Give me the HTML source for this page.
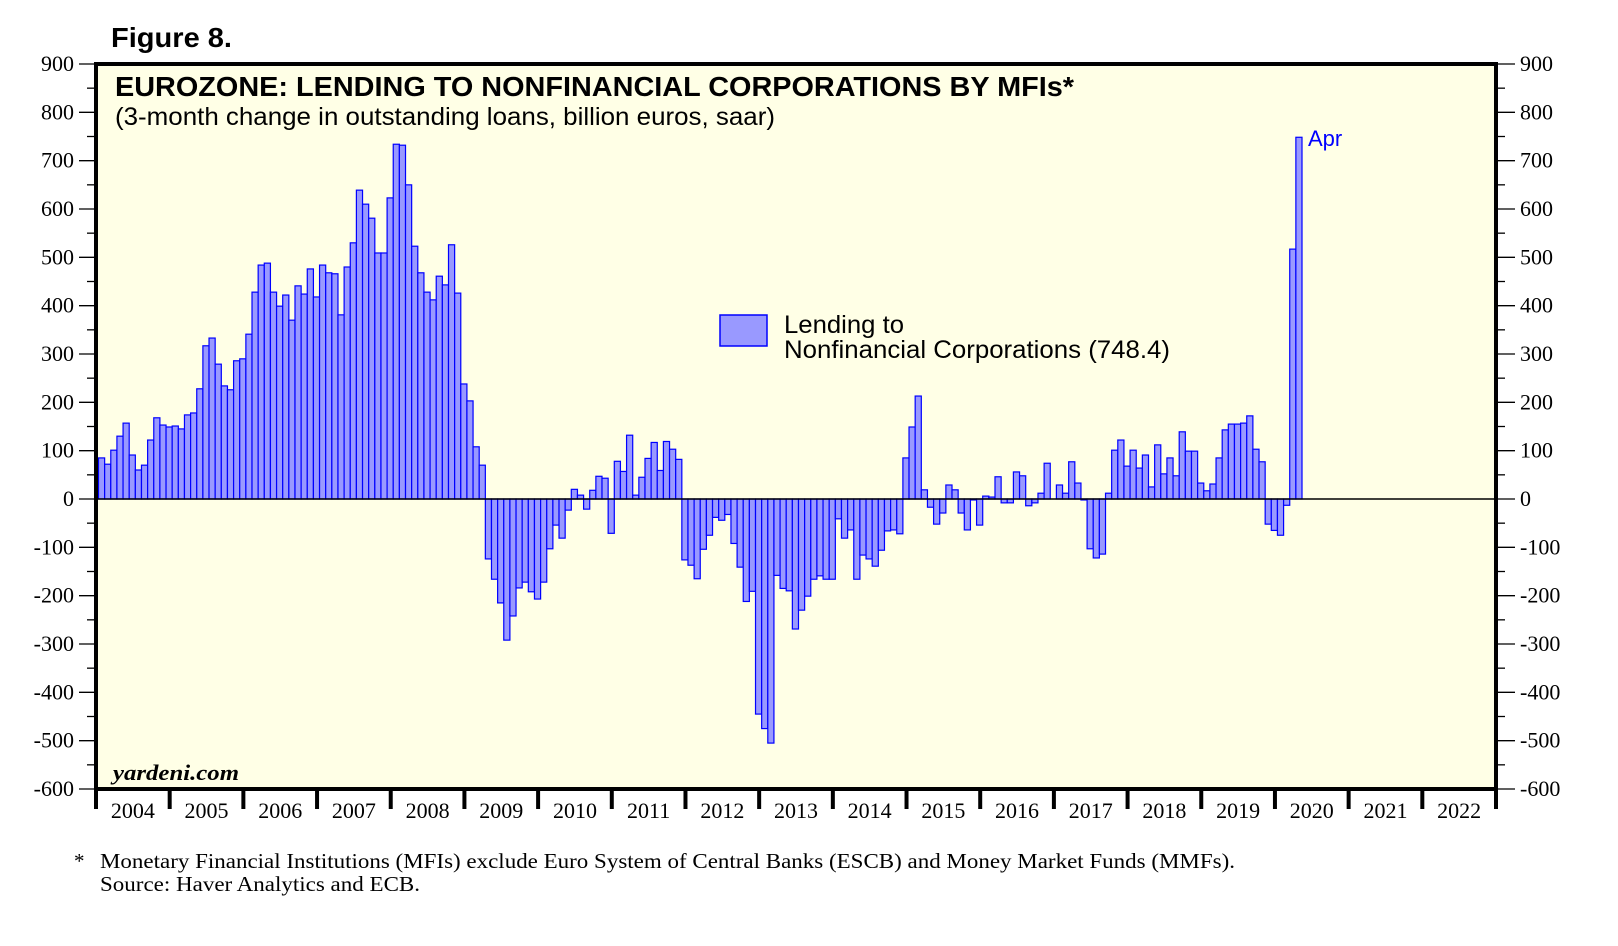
<!DOCTYPE html>
<html><head><meta charset="utf-8"><style>
html,body{margin:0;padding:0;background:#fff;}
svg{display:block;}
</style></head><body>
<svg id="chart" width="1618" height="946" xmlns="http://www.w3.org/2000/svg" font-family="Liberation Sans, sans-serif">
<text x="111" y="47" font-size="28" font-weight="bold" textLength="121" lengthAdjust="spacingAndGlyphs">Figure 8.</text>
<rect x="96" y="64" width="1400" height="725" fill="#ffffe6"/>
<g id="bars"></g>
<g id="axes"></g>
<rect x="96" y="64" width="1400" height="725" fill="none" stroke="#000" stroke-width="4"/>
<text x="115" y="96" font-size="28" font-weight="bold" textLength="959" lengthAdjust="spacingAndGlyphs">EUROZONE: LENDING TO NONFINANCIAL CORPORATIONS BY MFIs*</text>
<text x="115" y="125" font-size="25" textLength="660" lengthAdjust="spacingAndGlyphs">(3-month change in outstanding loans, billion euros, saar)</text>
<rect x="720" y="315" width="47" height="31" fill="#9999ff" stroke="#0000ff" stroke-width="1.5"/>
<text x="784" y="333" font-size="25" textLength="120" lengthAdjust="spacingAndGlyphs">Lending to</text>
<text x="784" y="358" font-size="25" textLength="386" lengthAdjust="spacingAndGlyphs">Nonfinancial Corporations (748.4)</text>
<text x="1308" y="146" font-size="22" fill="#0000ff">Apr</text>
<text x="113" y="780" font-size="22" font-weight="bold" font-style="italic" font-family="Liberation Serif, serif" textLength="126" lengthAdjust="spacingAndGlyphs">yardeni.com</text>
<g font-family="Liberation Serif, serif" font-size="21">
<text x="74" y="868">*</text>
<text x="100" y="868" textLength="1135" lengthAdjust="spacingAndGlyphs">Monetary Financial Institutions (MFIs) exclude Euro System of Central Banks (ESCB) and Money Market Funds (MMFs).</text>
<text x="100" y="891" textLength="320" lengthAdjust="spacingAndGlyphs">Source: Haver Analytics and ECB.</text>
</g>
</svg>
<script>
const years = [2004,2005,2006,2007,2008,2009,2010,2011,2012,2013,2014,2015,2016,2017,2018,2019,2020,2021,2022];
const yTicks = [900,800,700,600,500,400,300,200,100,0,-100,-200,-300,-400,-500,-600];
const lendingValues = [
85,72,101,130,157,91,60,70,122,168,153,149,
151,145,174,178,228,317,333,279,234,226,286,290,
341,428,484,488,428,399,422,370,441,424,476,418,
484,468,466,381,480,530,639,610,581,509,509,623,
734,732,650,523,468,428,412,461,443,526,426,238,
203,108,70,-124,-166,-215,-292,-242,-184,-172,-192,-207,
-172,-103,-54,-81,-23,20,8,-21,18,47,43,-71,
78,57,132,8,45,84,117,59,119,103,82,-126,
-137,-165,-104,-75,-38,-44,-32,-92,-141,-212,-191,-445,
-475,-505,-158,-185,-190,-269,-230,-201,-166,-159,-166,-166,
-41,-81,-64,-166,-116,-124,-139,-106,-66,-64,-72,85,
149,213,19,-17,-52,-29,29,19,-29,-64,-2,-54,
6,4,46,-8,-8,56,48,-14,-8,12,74,0,
29,12,77,33,-2,-103,-122,-114,12,101,122,68,
101,64,91,25,112,52,85,48,139,99,99,33,
17,31,85,143,155,155,157,172,103,77,-52,-65,
-75,-13,517,748.4
];
const NS='http://www.w3.org/2000/svg';
const X0=96, X1=1496, Y0=64, Y1=789, VMAX=900, VMIN=-600;
const monthW=(X1-X0)/(years.length*12);
const xScale=i=>X0+2.5+i*monthW;
const yScale=v=>Y0+(VMAX-v)/(VMAX-VMIN)*(Y1-Y0);
function mk(tag,attrs,parent){const e=document.createElementNS(NS,tag);for(const k in attrs)e.setAttribute(k,attrs[k]);parent.appendChild(e);return e;}
const bars=document.getElementById('bars');
const y0=yScale(0);
lendingValues.forEach((v,i)=>{
  const yv=yScale(v);
  const r=mk('rect',{x:xScale(i),y:Math.min(yv,y0),width:monthW,height:Math.abs(yv-y0),fill:'#9999ff',stroke:'#0000ff','stroke-width':1.2},bars);
  
  
});
const axes=document.getElementById('axes');
const zl=mk('line',{x1:X0,x2:X1,y1:y0,y2:y0,stroke:'#000','stroke-width':1.5},axes);


yTicks.forEach((t,k)=>{
  const y=yScale(t);
  const lt=mk('line',{x1:X0-17,x2:X0,y1:y,y2:y,stroke:'#000','stroke-width':1.3},axes);
  
  
  const rt=mk('line',{x1:X1,x2:X1+19,y1:y,y2:y,stroke:'#000','stroke-width':1.3},axes);
  
  
  if(k<yTicks.length-1){
    const ym=yScale(t-50);
    const lm=mk('line',{x1:X0-9,x2:X0,y1:ym,y2:ym,stroke:'#000','stroke-width':1.3},axes);
    
    
    const rm=mk('line',{x1:X1,x2:X1+9,y1:ym,y2:ym,stroke:'#000','stroke-width':1.3},axes);
    
    
  }
  const ll=mk('text',{x:X0-22,y:y+7,'text-anchor':'end','font-size':22,'font-family':'Liberation Serif, serif'},axes);
  ll.textContent=t;
  
  
  const rl=mk('text',{x:X1+24,y:y+7,'text-anchor':'start','font-size':22,'font-family':'Liberation Serif, serif'},axes);
  rl.textContent=t;
  
  
});
const yearW=(X1-X0)/years.length;
years.forEach((yr,k)=>{
  const x=X0+k*yearW;
  const tk=mk('line',{x1:x,x2:x,y1:Y1,y2:Y1+20,stroke:'#000','stroke-width':4},axes);
  
  
  const lb=mk('text',{x:x+yearW/2,y:818,'text-anchor':'middle','font-size':22,'font-family':'Liberation Serif, serif'},axes);
  lb.textContent=yr;
  
  
});
const tkEnd=mk('line',{x1:X1,x2:X1,y1:Y1,y2:Y1+20,stroke:'#000','stroke-width':4},axes);


</script>
</body></html>
